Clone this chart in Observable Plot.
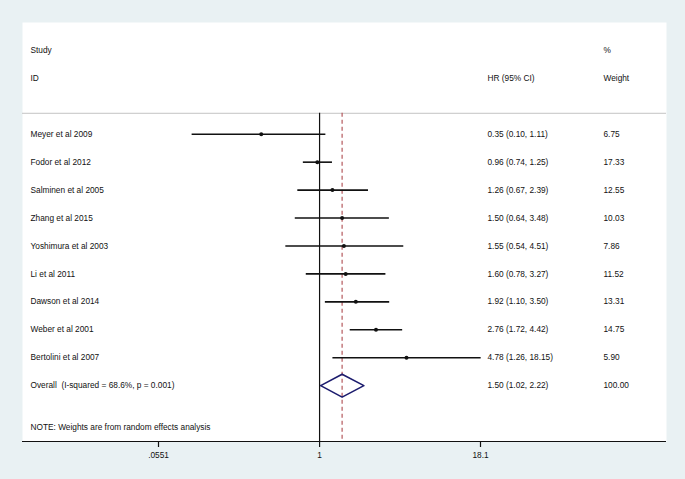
<!DOCTYPE html>
<html>
<head>
<meta charset="utf-8">
<script src="https://cdn.jsdelivr.net/npm/d3@7"></script>
<script src="https://cdn.jsdelivr.net/npm/@observablehq/plot@0.6"></script>
<style>
  html, body { margin: 0; padding: 0; background: #e9f1f3; }
  #chart svg { display: block; }
</style>
</head>
<body>
<div id="chart"></div>
<script>
const studies = ["Meyer et al 2009", "Fodor et al 2012", "Salminen et al 2005", "Zhang et al 2015",
  "Yoshimura et al 2003", "Li et al 2011", "Dawson et al 2014", "Weber et al 2001", "Bertolini et al 2007"];
const hr = [0.35, 0.96, 1.26, 1.50, 1.55, 1.60, 1.92, 2.76, 4.78];
const lo = [0.10, 0.74, 0.67, 0.64, 0.54, 0.78, 1.10, 1.72, 1.26];
const hi = [1.11, 1.25, 2.39, 3.48, 4.51, 3.27, 3.50, 4.42, 18.15];
const weight = ["6.75", "17.33", "12.55", "10.03", "7.86", "11.52", "13.31", "14.75", "5.90"];

const overallLabel = "Overall\u00a0 (I-squared = 68.6%, p = 0.001)";
const overallHR = 1.50, overallLo = 1.02, overallHi = 2.22, overallWeight = "100.00";
const note = "NOTE: Weights are from random effects analysis";
const tickValues = [0.0551, 1, 18.1];
const tickLabels = [".0551", "1", "18.1"];

const fmt = v => v.toFixed(2);
const rows = studies.map((s, i) => ({
  study: s, hr: hr[i], lo: lo[i], hi: hi[i], weight: weight[i], row: i,
  ci: `${fmt(hr[i])} (${fmt(lo[i])}, ${fmt(hi[i])})`
}));
const overallRow = studies.length;
const labelRows = [...rows, {study: overallLabel, row: overallRow,
  ci: `${fmt(overallHR)} (${fmt(overallLo)}, ${fmt(overallHi)})`, weight: overallWeight}];
const hdr = [{a: "Study", b: "", c: "%", row: -3}, {a: "ID", b: "HR (95% CI)", c: "Weight", row: -2}];
const dh = 0.41;
const diamond = [
  {x: overallLo, y: overallRow}, {x: overallHR, y: overallRow - dh},
  {x: overallHi, y: overallRow}, {x: overallHR, y: overallRow + dh},
  {x: overallLo, y: overallRow}
];
const tickData = tickValues.map((v, i) => ({v, label: tickLabels[i]}));

const font = "Liberation Sans, Arial, sans-serif";
const fs = 8.3;
const txt = "#111";
const rowPx = 419 / 15;
const axisRow = 11;

const chart = Plot.plot({
  width: 685,
  height: 479,
  marginLeft: 22,
  marginRight: 19,
  marginTop: 22,
  marginBottom: 38,
  style: {background: "#e9f1f3", fontFamily: font, fontSize: fs + "px", color: txt},
  x: {type: "log", domain: [0.0551, 18.1], range: [158, 480], axis: null},
  y: {domain: [-4, 11], range: [22, 441], axis: null},
  marks: [
    Plot.frame({fill: "white", stroke: null}),
    Plot.ruleY([-0.75], {stroke: "#c4c4c4", strokeWidth: 1}),
    Plot.ruleX([1], {y1: -0.75, y2: axisRow, stroke: "#111", strokeWidth: 1.2}),
    Plot.ruleX([overallHR], {y1: -0.75, y2: axisRow, stroke: "#b4585c", strokeWidth: 1.2, strokeDasharray: "4,3"}),
    Plot.link(rows, {x1: "lo", x2: "hi", y1: "row", y2: "row", stroke: "#111", strokeWidth: 1.6}),
    Plot.dot(rows, {x: "hr", y: "row", r: 2, fill: "#111", stroke: null}),
    Plot.line(diamond, {x: "x", y: "y", stroke: "#1c1c6e", strokeWidth: 1.6}),
    Plot.ruleY([axisRow], {stroke: "#111", strokeWidth: 1.2}),
    Plot.text(labelRows, {y: "row", text: "study", frameAnchor: "left", dx: 8, textAnchor: "start", fill: txt}),
    Plot.text(labelRows, {y: "row", text: "ci", frameAnchor: "right", dx: -179, textAnchor: "start", fill: txt}),
    Plot.text(labelRows, {y: "row", text: "weight", frameAnchor: "right", dx: -63, textAnchor: "start", fill: txt}),
    Plot.text(hdr, {y: "row", text: "a", frameAnchor: "left", dx: 8, textAnchor: "start", fill: txt}),
    Plot.text(hdr, {y: "row", text: "b", frameAnchor: "right", dx: -179, textAnchor: "start", fill: txt}),
    Plot.text(hdr, {y: "row", text: "c", frameAnchor: "right", dx: -63, textAnchor: "start", fill: txt}),
    Plot.text([note], {y: 10.5, text: d => d, frameAnchor: "left", dx: 8, textAnchor: "start", fill: txt}),
    Plot.ruleX(tickData, {x: "v", y1: axisRow, y2: axisRow + 6 / rowPx, stroke: "#111", strokeWidth: 1.2}),
    Plot.text(tickData, {x: "v", y: axisRow, text: "label", dy: 14, fill: txt})
  ]
});
document.getElementById("chart").appendChild(chart);
</script>
</body>
</html>
